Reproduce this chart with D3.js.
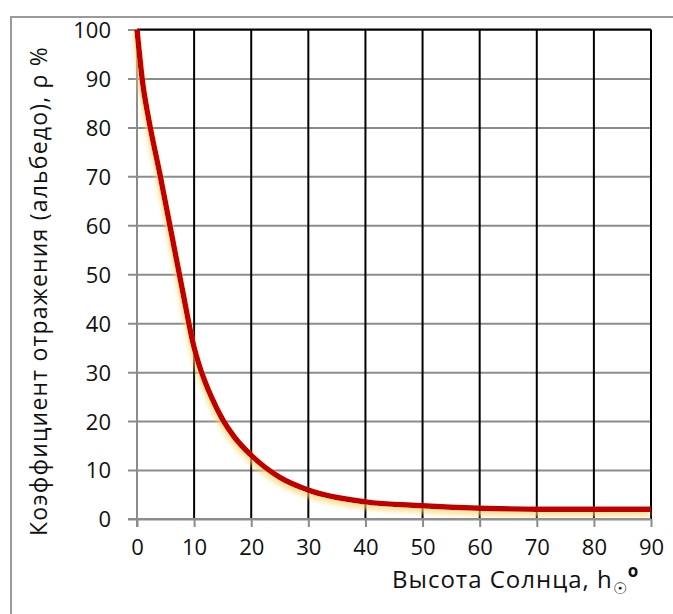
<!DOCTYPE html>
<html>
<head>
<meta charset="utf-8">
<script src="https://cdn.jsdelivr.net/npm/d3@7"></script>
<style>
  body { margin: 0; background: #fff; }
  text { font-family: "Open Sans", "Noto Sans", sans-serif; fill: #111; }
</style>
</head>
<body>
<div id="chart"></div>
<script>
// Sun altitude (deg) and albedo (%)
const sunHeight = [0, 1, 2, 4, 6, 8, 10, 11, 12, 13, 15, 17, 20, 25, 30, 40, 50, 60, 70, 80, 90];
const albedo = [100, 89, 82, 70.5, 58.5, 46.5, 35, 31, 27.8, 25, 20.3, 16.8, 13, 8.5, 5.9, 3.5, 2.7, 2.2, 2.0, 2.0, 2.0];
const xTicks = [0, 10, 20, 30, 40, 50, 60, 70, 80, 90];
const yTicks = [0, 10, 20, 30, 40, 50, 60, 70, 80, 90, 100];
const yTitle = "Коэффициент отражения (альбедо), ρ %";

const svgWidth = 673;
const svgHeight = 614;
const margin = { top: 29.5, left: 137, right: 22, bottom: 95 };
const width = 651 - margin.left;
const height = 519 - margin.top;

const svg = d3.select("#chart")
    .append("svg")
    .attr("width", svgWidth)
    .attr("height", svgHeight);

// shadow for the curve
const defs = svg.append("defs");
const filt = defs.append("filter").attr("id", "glow")
    .attr("x", "-10%").attr("y", "-10%").attr("width", "120%").attr("height", "120%");
filt.append("feGaussianBlur").attr("in", "SourceAlpha").attr("stdDeviation", 2.4).attr("result", "b");
filt.append("feOffset").attr("in", "b").attr("dx", -1).attr("dy", 4).attr("result", "o");
filt.append("feFlood").attr("flood-color", "#f9d56a").attr("flood-opacity", 0.8);
filt.append("feComposite").attr("in2", "o").attr("operator", "in").attr("result", "s");
const merge = filt.append("feMerge");
merge.append("feMergeNode").attr("in", "s");
merge.append("feMergeNode").attr("in", "SourceGraphic");

// chart frame
svg.append("rect")
    .attr("x", 11).attr("y", 17)
    .attr("width", 800).attr("height", 800)
    .attr("fill", "none")
    .attr("stroke", "#9a9a9a")
    .attr("stroke-width", 2);

const chartGroup = svg.append("g")
    .attr("transform", `translate(${margin.left}, ${margin.top})`);

const x = d3.scaleLinear().domain([0, 90]).range([0, width]);
const y = d3.scaleLinear().domain([0, 100]).range([height, 0]);

// horizontal grid (gray) with ticks on the left
chartGroup.append("g")
    .call(d3.axisLeft(y).tickValues(yTicks).tickSize(-width).tickSizeOuter(0))
    .call(g => g.select(".domain").remove())
    .call(g => g.selectAll(".tick line").attr("stroke", "#8c8c8c").attr("stroke-width", 2).attr("x1", -9))
    .call(g => g.selectAll(".tick text").attr("font-size", 22).attr("x", -26).attr("dy", "0.36em").style("fill", "#111"));

// vertical grid (black), gray ticks below
chartGroup.append("g")
    .attr("transform", `translate(0, ${height})`)
    .call(d3.axisBottom(x).tickValues(xTicks).tickSize(8).tickSizeOuter(0).tickPadding(12))
    .call(g => g.select(".domain").remove())
    .call(g => g.selectAll(".tick line").attr("stroke", "#8c8c8c").attr("stroke-width", 2))
    .call(g => g.selectAll(".tick text").attr("font-size", 22).style("fill", "#111"));

chartGroup.append("g")
    .selectAll("line")
    .data(xTicks.filter(d => d > 0))
    .join("line")
    .attr("x1", d => x(d)).attr("x2", d => x(d))
    .attr("y1", 0).attr("y2", height)
    .attr("stroke", "#000")
    .attr("stroke-width", 2);

// top border black, axes gray
chartGroup.append("line")
    .attr("x1", 0).attr("x2", width).attr("y1", 0).attr("y2", 0)
    .attr("stroke", "#000").attr("stroke-width", 2);
chartGroup.append("line")
    .attr("x1", 0).attr("x2", 0).attr("y1", 0).attr("y2", height + 8)
    .attr("stroke", "#8c8c8c").attr("stroke-width", 2);
chartGroup.append("line")
    .attr("x1", -9).attr("x2", width).attr("y1", height).attr("y2", height)
    .attr("stroke", "#8c8c8c").attr("stroke-width", 2);

// curve
const line = d3.line()
    .x((d, i) => x(sunHeight[i]))
    .y(d => y(d))
    .curve(d3.curveMonotoneX);

chartGroup.append("path")
    .datum(albedo)
    .attr("d", line)
    .attr("fill", "none")
    .attr("stroke", "#c00000")
    .attr("stroke-width", 5.5)
    .attr("stroke-linejoin", "round")
    .attr("filter", "url(#glow)");

// axis titles
svg.append("text")
    .attr("transform", "translate(47, 291) rotate(-90)")
    .attr("text-anchor", "middle")
    .attr("font-size", 23)
    .attr("letter-spacing", 1.2)
    .text(yTitle);

const xt = svg.append("text")
    .attr("x", 392).attr("y", 588)
    .attr("font-size", 24)
    .attr("letter-spacing", 1);
xt.append("tspan").text("Высота Солнца, h");
xt.append("tspan").attr("font-size", 16).attr("dy", 6).text("☉");
xt.append("tspan").attr("font-size", 17).attr("font-weight", "bold").attr("dy", -17).text("o");
</script>
</body>
</html>
